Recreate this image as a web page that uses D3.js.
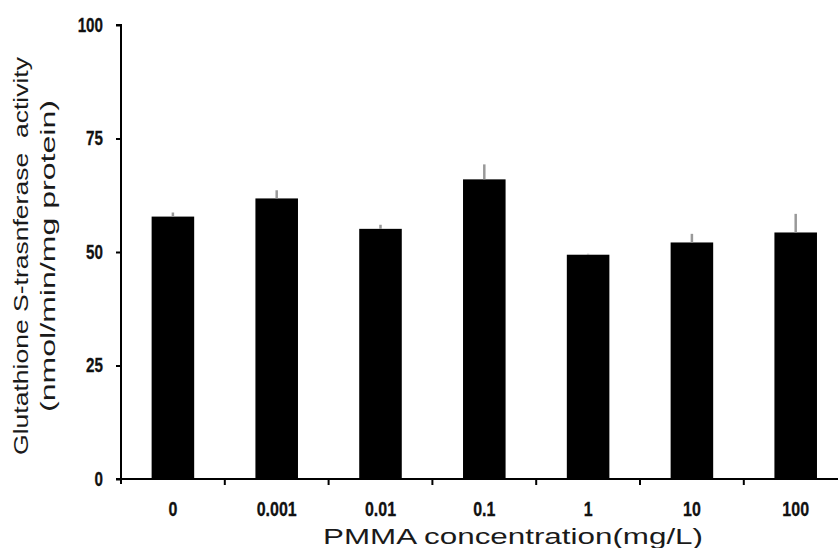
<!DOCTYPE html>
<html>
<head>
<meta charset="utf-8">
<script src="https://cdn.jsdelivr.net/npm/d3@7"></script>
<style>
  html, body { margin: 0; padding: 0; background: #fff; }
  svg { display: block; }
  .tick-label { font-family: "Liberation Sans", Arial, sans-serif; font-weight: bold; font-size: 20px; fill: #111; stroke: #111; stroke-width: 0.3px; }
  .title { font-family: "Liberation Sans", Arial, sans-serif; fill: #1a1a1a; }
</style>
</head>
<body>
<svg id="chart" width="838" height="548"></svg>
<script>
// PMMA exposure groups and measured GST activity (mean, upper error)
const concentrations = ["0", "0.001", "0.01", "0.1", "1", "10", "100"];
const gstActivity = [57.8, 61.8, 55.1, 66.0, 49.4, 52.1, 54.3];
const gstError = [0.9, 1.8, 0.9, 3.3, 0.2, 1.9, 4.1];
const yTicks = [0, 25, 50, 75, 100];

const svg = d3.select("#chart");
const plotLeft = 121, plotBottom = 479, plotTop = 25;

const x = d3.scaleBand()
  .domain(concentrations)
  .range([plotLeft, plotLeft + 7 * 103.8])
  .paddingInner(0.59)
  .paddingOuter(0.295);

const y = d3.scaleLinear().domain([0, 100]).range([plotBottom, plotTop]);

// narrow the bold tick labels to a condensed width
function condense(sel, factor) {
  sel.each(function () {
    const w = this.getComputedTextLength();
    d3.select(this).attr("textLength", w * factor).attr("lengthAdjust", "spacingAndGlyphs");
  });
}

// bars
svg.append("g").selectAll("rect")
  .data(concentrations)
  .join("rect")
  .attr("x", d => x(d))
  .attr("width", x.bandwidth())
  .attr("y", (d, i) => y(gstActivity[i]))
  .attr("height", (d, i) => y(0) - y(gstActivity[i]))
  .attr("fill", "#000");

// upper error bars
svg.append("g").selectAll("line")
  .data(concentrations)
  .join("line")
  .attr("x1", d => x(d) + x.bandwidth() / 2)
  .attr("x2", d => x(d) + x.bandwidth() / 2)
  .attr("y1", (d, i) => y(gstActivity[i]))
  .attr("y2", (d, i) => y(gstActivity[i] + gstError[i]))
  .attr("stroke", "#999")
  .attr("stroke-width", 2.5);

// y axis
const yAxis = svg.append("g")
  .attr("transform", `translate(${plotLeft},0)`)
  .call(d3.axisLeft(y).tickValues(yTicks).tickSize(5).tickPadding(13).tickFormat(d3.format("d")));
yAxis.attr("font-size", null).attr("font-family", null);
yAxis.select(".domain").attr("stroke", "#000").attr("stroke-width", 2).attr("d", `M-5,${plotTop}H0V${plotBottom + 5}`);
yAxis.selectAll(".tick line").attr("stroke", "#000").attr("stroke-width", 2);
yAxis.selectAll(".tick text").attr("class", "tick-label").call(condense, 0.76);

// x axis: ticks sit on category boundaries
const xAxis = svg.append("g").attr("transform", `translate(0,${plotBottom})`);
xAxis.append("line")
  .attr("x1", plotLeft - 5).attr("x2", 838)
  .attr("stroke", "#000").attr("stroke-width", 2);
xAxis.selectAll("line.sep")
  .data(concentrations.slice(1))
  .join("line")
  .attr("class", "sep")
  .attr("x1", d => x(d) - x.step() * x.paddingInner() / 2)
  .attr("x2", d => x(d) - x.step() * x.paddingInner() / 2)
  .attr("y1", 0).attr("y2", 6)
  .attr("stroke", "#000").attr("stroke-width", 2);
xAxis.selectAll("text")
  .data(concentrations)
  .join("text")
  .attr("class", "tick-label")
  .attr("x", d => x(d) + x.bandwidth() / 2)
  .attr("y", 37)
  .attr("text-anchor", "middle")
  .text(d => d)
  .call(condense, 0.8);

// axis titles
svg.append("text")
  .attr("class", "title")
  .attr("x", 323).attr("y", 544)
  .attr("font-size", 22)
  .attr("textLength", 380)
  .attr("lengthAdjust", "spacingAndGlyphs")
  .text("PMMA concentration(mg/L)");

const yTitle = svg.append("text")
  .attr("class", "title")
  .attr("transform", "translate(0,256) rotate(-90)")
  .attr("text-anchor", "middle")
  .attr("font-size", 21);
yTitle.append("tspan").attr("x", 0).attr("y", 28)
  .attr("textLength", 398).attr("lengthAdjust", "spacingAndGlyphs")
  .text("Glutathione S-trasnferase\u00a0 activity");
yTitle.append("tspan").attr("x", 0).attr("y", 55)
  .attr("textLength", 312).attr("lengthAdjust", "spacingAndGlyphs")
  .text("(nmol/min/mg protein)");
</script>
</body>
</html>
